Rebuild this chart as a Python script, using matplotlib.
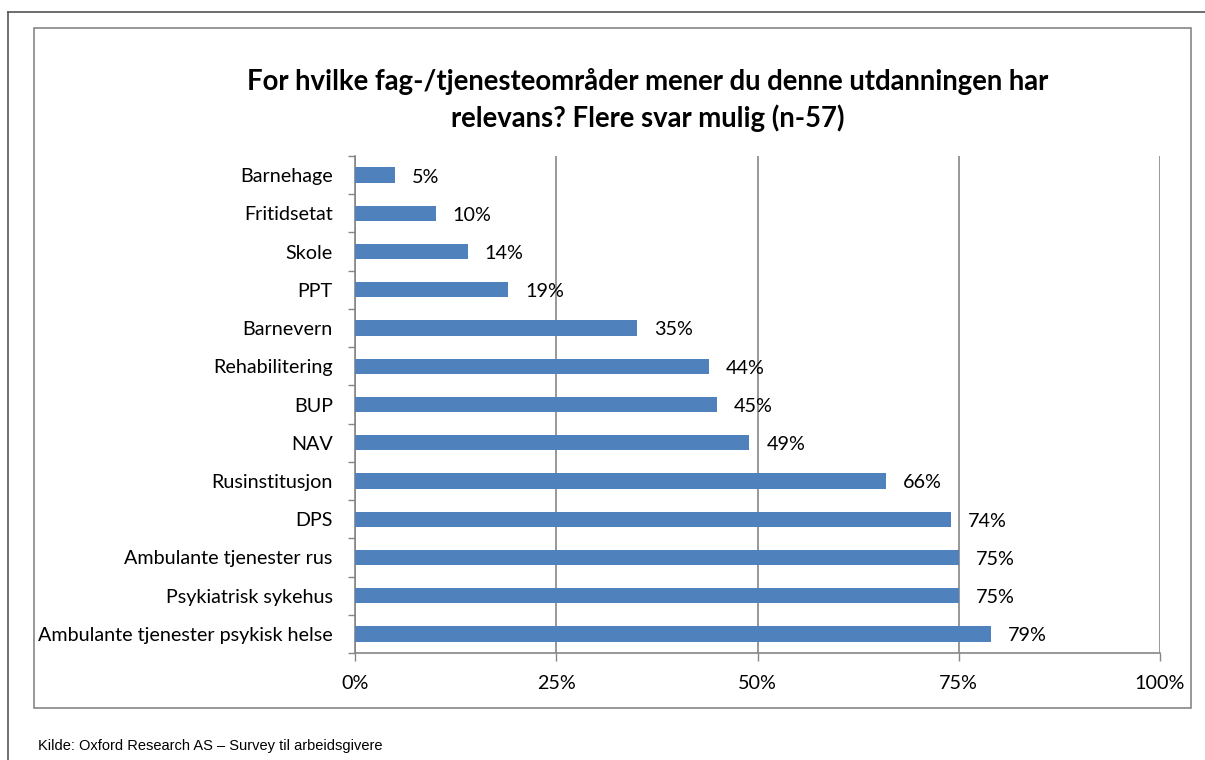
import matplotlib.pyplot as plt
from matplotlib.patches import Rectangle
from matplotlib.lines import Line2D

categories = ['Barnehage', 'Fritidsetat', 'Skole', 'PPT', 'Barnevern',
              'Rehabilitering', 'BUP', 'NAV', 'Rusinstitusjon', 'DPS',
              'Ambulante tjenester rus', 'Psykiatrisk sykehus',
              'Ambulante tjenester psykisk helse']
values = [5, 10, 14, 19, 35, 44, 45, 49, 66, 74, 75, 75, 79]
xticks = [0, 25, 50, 75, 100]

W, H = 1205, 760
fig = plt.figure(figsize=(W / 100, H / 100), dpi=100)
font = 'Lato'
grey = '#868686'
fs = 14.2

# outer frame and chart box
fig.add_artist(Line2D([8 / W, 8 / W], [0, 1 - 12 / H], color='#555555', lw=1.2))
fig.add_artist(Line2D([8 / W, 1], [1 - 12 / H, 1 - 12 / H], color='#555555', lw=1.2))
fig.add_artist(Rectangle((34 / W, 1 - 708 / H), (1191 - 34) / W, (708 - 28) / H,
                         fill=False, edgecolor=grey, lw=1.2))

ax = fig.add_axes([355 / W, 1 - 653 / H, (1160 - 355) / W, (653 - 156) / H])
y = list(range(len(categories)))
ax.barh(y, values, height=0.4, color='#4F81BD', zorder=3)
for yi, v in zip(y, values):
    ax.text(v + 2.1, yi + 0.05, f'{v}%', va='center', ha='left',
            fontsize=fs, family=font, zorder=4)

ax.set_xlim(0, 100)
ax.set_ylim(len(categories) - 0.5, -0.5)
ax.set_xticks(xticks)
ax.set_xticklabels([f'{t}%' for t in xticks], family=font, fontsize=fs)
ax.set_yticks(y)
ax.set_yticklabels(categories, family=font, fontsize=fs)
ax.set_yticks([i - 0.5 for i in range(len(categories) + 1)], minor=True)
ax.tick_params(axis='y', which='major', length=0, pad=16)
ax.tick_params(axis='y', which='minor', length=5, color=grey, width=1)
ax.tick_params(axis='x', length=6, color=grey, width=1, pad=10)
ax.grid(axis='x', color=grey, lw=1.2, zorder=0)
for s in ['top', 'right']:
    ax.spines[s].set_visible(False)
for s in ['left', 'bottom']:
    ax.spines[s].set_color(grey)
    ax.spines[s].set_linewidth(1.2)

fig.text(648 / W, 1 - 100 / H,
         'For hvilke fag-/tjenesteområder mener du denne utdanningen har\n'
         'relevans? Flere svar mulig (n-57)',
         ha='center', va='center', fontsize=19.8, fontweight='bold',
         family=font, linespacing=1.4)
fig.text(38 / W, 1 - 746 / H, 'Kilde: Oxford Research AS – Survey til arbeidsgivere',
         ha='left', va='center', fontsize=10.5, family='Liberation Sans')

fig.savefig('out.png', dpi=100)
